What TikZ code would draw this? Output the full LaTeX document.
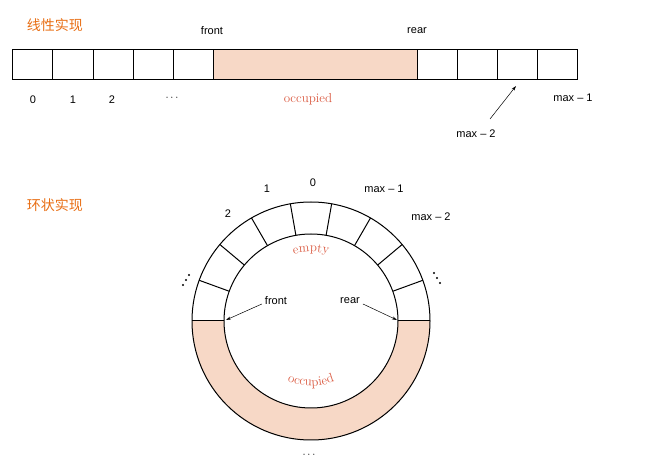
\documentclass[tikz,border=0pt]{standalone}
\usepackage{fontspec}
\setmainfont{Liberation Sans}
\newfontfamily\cjk{Noto Sans CJK SC}
\newfontfamily\serifx{Latin Modern Roman}
\usetikzlibrary{decorations.text,arrows.meta,calc}
\definecolor{occ}{RGB}{247,216,198}
\definecolor{redt}{RGB}{218,90,65}
\definecolor{ttl}{RGB}{232,110,20}
\begin{document}
\begin{tikzpicture}[x=1pt,y=1pt,
  lab/.style={font=\fontsize{11}{13}\selectfont,inner sep=0pt},
  rlab/.style={font=\serifx\fontsize{13}{15}\selectfont,text=redt,inner sep=0pt},
  title/.style={font=\cjk\fontsize{14}{16}\selectfont,text=ttl,inner sep=0pt},
  cell/.style={draw,line width=1pt},
  arr/.style={-{Stealth[length=5pt,width=3pt]},line width=0.5pt}]
\useasboundingbox (0,0) rectangle (670,469);
% titles
\node[title] (t1) at (55,444) {线性实现};
\node[title] (t2) at (55,264) {环状实现};
% linear bar
\fill[occ] (213,389) rectangle (417,419);
\foreach \a/\b in {12/52,52/93,93/133,133/173,173/213,417/457,457/497,497/537,537/577}{
  \draw[cell] (\a,389) rectangle (\b,419);}
\draw[line width=1pt] (213,389) -- (417,389) (213,419) -- (417,419);
\node[lab] (f1) at (212,438) {front};
\node[lab] (r1) at (417,438) {rear};
\node[lab] (n0) at (33,369) {0};
\node[lab] (n1) at (73,369) {1};
\node[lab] (n2) at (112,369) {2};
\node[lab] (nd) at (172,371) {$\cdots$};
\node[rlab] (oc1) at (308,370) {occupied};
\node[lab] (m1) at (573,371) {max -- 1};
\node[lab] (m2) at (476,335) {max -- 2};
\coordinate (tip) at (516,383);
\draw[arr] (490,350) -- (tip);
% ring
\coordinate (c) at (311,148);
\fill[occ] (192,148) arc (180:360:119) -- (398,148) arc (360:180:87) -- cycle;
\draw[line width=1pt] (c) circle (119);
\draw[line width=1pt] (c) circle (87);
\draw[line width=1pt] (192,148) -- (224,148) (398,148) -- (430,148);
\foreach \t in {20,40,...,160}{\draw[line width=1pt] ($(c)+(\t:87)$) -- ($(c)+(\t:119)$);}
\node[lab] (c0) at (313,286) {0};
\node[lab] (c1) at (267,280) {1};
\node[lab] (c2) at (228,255) {2};
\node[lab] (cm1) at (384,280) {max -- 1};
\node[lab] (cm2) at (431,252) {max -- 2};
\foreach \dx/\dy in {0/0,3/5,6/10}{\fill (183+\dx,184+\dy) circle (1.1);}
\foreach \dx/\dy in {0/0,3/-5,6/-10}{\fill (434+\dx,196+\dy) circle (1.1);}
\node[lab] (bd) at (309,14) {$\cdots$};
\node[lab] (fr) at (276,168) {front};
\node[lab] (rr) at (350,168) {rear};
\draw[arr] (fr.west) ++(-3,-3) -- (226,149);
\draw[arr] (rr.east) ++(3,-3) -- (397,149);
\path[decorate,decoration={text along path,text align=center,
  text={|\serifx\fontsize{13}{15}\selectfont\color{redt}|empty}}]
  (c) ++(125:69) arc (125:55:69);
\path[decorate,decoration={text along path,text align=center,
  text={|\serifx\fontsize{13}{15}\selectfont\color{redt}|occupied}}]
  (c) ++(215:65) arc (215:325:65);
\end{tikzpicture}
\end{document}
